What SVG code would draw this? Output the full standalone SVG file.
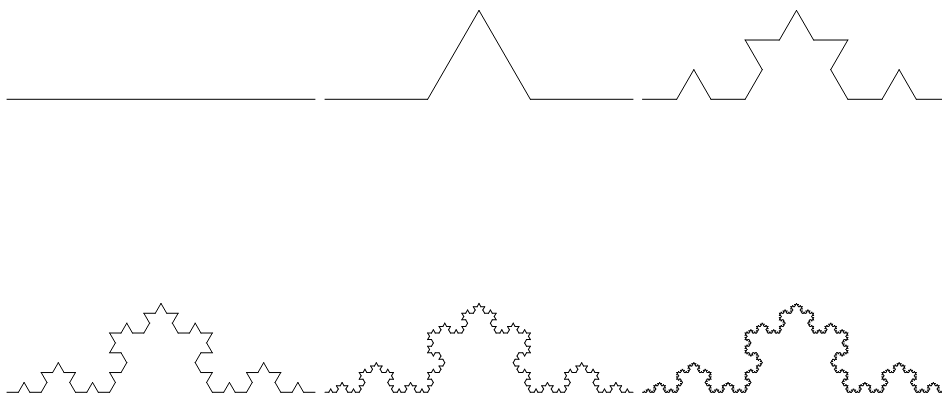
<svg xmlns="http://www.w3.org/2000/svg" xmlns:xlink="http://www.w3.org/1999/xlink" width="942" height="394" viewBox="0 0 942 394">
<style>
.seg{stroke:#000;stroke-width:1;fill:none;vector-effect:non-scaling-stroke;stroke-linecap:round}
</style>
<defs>
<path id="k0" class="seg" d="M0 0 L1 0"/>
<g id="k1">
<use xlink:href="#k0" transform="scale(0.333333)"/>
<use xlink:href="#k0" transform="translate(0.333333 0) rotate(-60) scale(0.333333)"/>
<use xlink:href="#k0" transform="translate(0.5 -0.288675) rotate(60) scale(0.333333)"/>
<use xlink:href="#k0" transform="translate(0.666667 0) scale(0.333333)"/>
</g>
<g id="k2">
<use xlink:href="#k1" transform="scale(0.333333)"/>
<use xlink:href="#k1" transform="translate(0.333333 0) rotate(-60) scale(0.333333)"/>
<use xlink:href="#k1" transform="translate(0.5 -0.288675) rotate(60) scale(0.333333)"/>
<use xlink:href="#k1" transform="translate(0.666667 0) scale(0.333333)"/>
</g>
<g id="k3">
<use xlink:href="#k2" transform="scale(0.333333)"/>
<use xlink:href="#k2" transform="translate(0.333333 0) rotate(-60) scale(0.333333)"/>
<use xlink:href="#k2" transform="translate(0.5 -0.288675) rotate(60) scale(0.333333)"/>
<use xlink:href="#k2" transform="translate(0.666667 0) scale(0.333333)"/>
</g>
<g id="k4">
<use xlink:href="#k3" transform="scale(0.333333)"/>
<use xlink:href="#k3" transform="translate(0.333333 0) rotate(-60) scale(0.333333)"/>
<use xlink:href="#k3" transform="translate(0.5 -0.288675) rotate(60) scale(0.333333)"/>
<use xlink:href="#k3" transform="translate(0.666667 0) scale(0.333333)"/>
</g>
<g id="k5">
<use xlink:href="#k4" transform="scale(0.333333)"/>
<use xlink:href="#k4" transform="translate(0.333333 0) rotate(-60) scale(0.333333)"/>
<use xlink:href="#k4" transform="translate(0.5 -0.288675) rotate(60) scale(0.333333)"/>
<use xlink:href="#k4" transform="translate(0.666667 0) scale(0.333333)"/>
</g>
</defs>
<rect width="942" height="394" fill="#fff"/>
<use xlink:href="#k0" transform="translate(7 99.3) scale(308)"/>
<use xlink:href="#k1" transform="translate(325 99.3) scale(308)"/>
<use xlink:href="#k2" transform="translate(642.5 99.3) scale(308)"/>
<use xlink:href="#k3" transform="translate(7 392.3) scale(308)"/>
<use xlink:href="#k4" transform="translate(325 392.3) scale(308)"/>
<use xlink:href="#k5" transform="translate(642.5 392.3) scale(308)"/>
</svg>
